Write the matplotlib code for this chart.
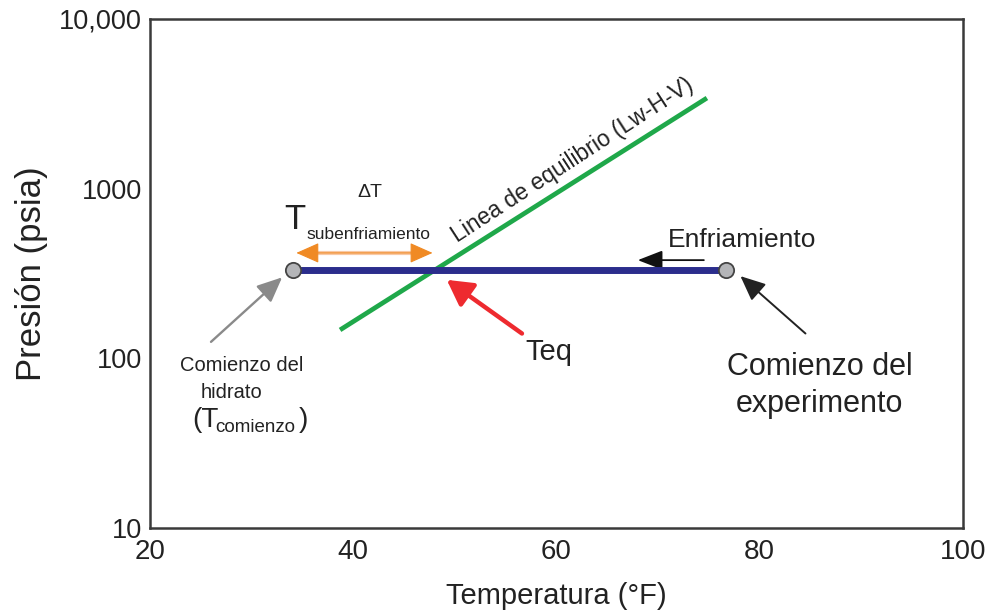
import numpy as np
import matplotlib
matplotlib.use("Agg")
import matplotlib.pyplot as plt
from matplotlib.ticker import FixedLocator, FixedFormatter

plt.rcParams['font.family'] = ['Liberation Sans', 'DejaVu Sans']

# Axis ranges and ticks
x_ticks = [20, 40, 60, 80, 100]
y_ticks = [10, 100, 1000, 10000]
y_tick_labels = ["10", "100", "1000", "10,000"]

# Isobaric cooling path (start of experiment -> hydrate onset)
cooling_T = [76.7, 34.1]
cooling_P = [330, 330]

# Lw-H-V equilibrium line
equil_T = [38.7, 74.8]
equil_P = [147, 3420]

# Equilibrium temperature (intersection) and subcooling span
T_eq = 47.8
subcool_P = 418

fig = plt.figure(figsize=(9.89, 6.12), dpi=100)
ax = fig.add_axes([0.1517, 0.1373, 0.822, 0.8317])
ax.set_yscale('log')
ax.set_xlim(20, 100)
ax.set_ylim(10, 10000)
ax.xaxis.set_major_locator(FixedLocator(x_ticks))
ax.yaxis.set_major_locator(FixedLocator(y_ticks))
ax.yaxis.set_major_formatter(FixedFormatter(y_tick_labels))
ax.yaxis.set_minor_locator(FixedLocator([]))
ax.tick_params(length=0, colors='#222222')
ax.tick_params(axis='y', labelsize=19.5, pad=6)
ax.tick_params(axis='x', labelsize=20, pad=8)
for s in ax.spines.values():
    s.set_color('#3a3a3a')
    s.set_linewidth(1.8)

ax.set_xlabel("Temperatura (°F)", fontsize=21, color='#222222', labelpad=12)
ax.set_ylabel("Presión (psia)", fontsize=25, color='#222222', labelpad=8)

# Equilibrium line
ax.plot(equil_T, equil_P, color='#1fa84a', lw=3.4, solid_capstyle='butt', zorder=3)
# Cooling path
ax.plot(cooling_T, cooling_P, color='#2b2d8c', lw=5, solid_capstyle='butt', zorder=4)
ax.plot(cooling_T, cooling_P, 'o', ms=11, mfc='#b4b5b8', mec='#444444', mew=1.3, zorder=5)

# Subcooling double arrow
ax.annotate("", xy=(cooling_T[1] + 0.3, subcool_P), xytext=(T_eq, subcool_P),
            arrowprops=dict(arrowstyle='<|-|>,head_length=0.9,head_width=0.4',
                            mutation_scale=16, fc='#f08a24', ec='#f08a24', lw=0.8,
                            shrinkA=0, shrinkB=0), zorder=4)
ax.plot([cooling_T[1] + 1.5, T_eq - 1.5], [subcool_P, subcool_P], color='#f8c9a6', lw=3, zorder=3)

ax.text(41.6, 955, "ΔT", fontsize=14, ha='center', va='center', color='#222222')
ax.text(34.2, 655, "T", fontsize=25, ha='center', va='center', color='#222222')
ax.text(35.4, 540, "subenfriamiento", fontsize=12.5, ha='left', va='center', color='#222222')

# Equilibrium line label, rotated along the line
ax.text(61.6, 1480, "Linea de equilibrio (Lw-H-V)", fontsize=16.5, rotation=33,
        rotation_mode='anchor', ha='center', va='center', color='#222222')

# Teq arrow
ax.annotate("", xy=(49.2, 290), xytext=(56.6, 140),
            arrowprops=dict(arrowstyle='-|>,head_length=0.9,head_width=0.5',
                            mutation_scale=17, color='#ee2a2f', lw=3.2, shrinkA=0, shrinkB=0))
ax.text(56.9, 109, "Teq", fontsize=21, ha='left', va='center', color='#222222')

# Cooling direction arrow
ax.annotate("", xy=(68.0, 379), xytext=(74.5, 379),
            arrowprops=dict(arrowstyle='-|>,head_length=0.9,head_width=0.35',
                            mutation_scale=17, color='#111111', lw=1.3, shrinkA=0, shrinkB=0))
ax.text(71.0, 500, "Enfriamiento", fontsize=19, ha='left', va='center', color='#222222')

# Start-of-experiment arrow and label
ax.annotate("", xy=(78.1, 305), xytext=(84.5, 140),
            arrowprops=dict(arrowstyle='-|>,head_length=0.9,head_width=0.4',
                            mutation_scale=17, color='#222222', lw=1.4, shrinkA=0, shrinkB=0))
ax.text(85.9, 69, "Comienzo del\nexperimento", fontsize=22, ha='center', va='center',
        color='#222222', linespacing=1.3)

# Hydrate onset arrow and label
ax.annotate("", xy=(33.0, 300), xytext=(26.0, 125),
            arrowprops=dict(arrowstyle='-|>,head_length=0.9,head_width=0.4',
                            mutation_scale=17, color='#8a8a8a', lw=1.7, shrinkA=0, shrinkB=0))
ax.text(29.0, 91, "Comienzo del", fontsize=14.5, ha='center', va='center', color='#222222')
ax.text(28.0, 63, "hidrato", fontsize=14.5, ha='center', va='center', color='#222222')
ax.text(24.2, 43, "(T", fontsize=20, ha='left', va='center', color='#222222')
ax.text(26.4, 39, "comienzo", fontsize=13.5, ha='left', va='center', color='#222222')
ax.text(34.6, 43, ")", fontsize=20, ha='left', va='center', color='#222222')

fig.savefig("out.png", dpi=100)
